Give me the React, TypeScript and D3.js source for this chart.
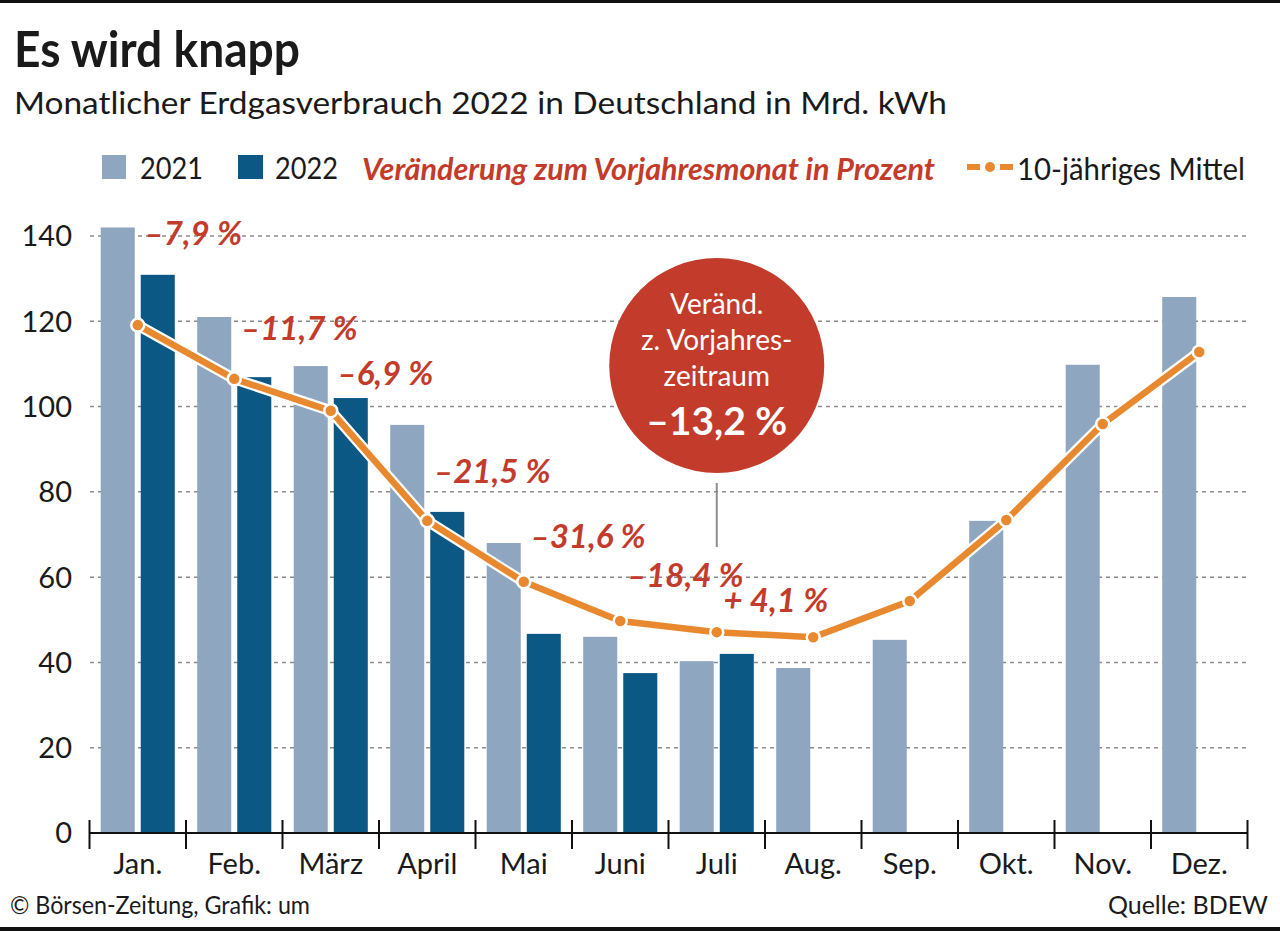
import React from "react";
import * as d3 from "d3";

const months = ["Jan.", "Feb.", "März", "April", "Mai", "Juni", "Juli", "Aug.", "Sep.", "Okt.", "Nov.", "Dez."];
const series = ["2021", "2022"];
const values2021 = [142, 121, 109.5, 95.7, 68, 46, 40.3, 38.7, 45.3, 73.2, 109.8, 125.7];
const values2022 = [130.9, 106.9, 102, 75.3, 46.7, 37.5, 42];
const mean10 = [119.1, 106.5, 99, 73.2, 58.9, 49.7, 47.1, 45.9, 54.4, 73.4, 95.9, 112.8];
const changeLabels = ["–7,9 %", "–11,7 %", "–6,9 %", "–21,5 %", "–31,6 %", "–18,4 %", "+ 4,1 %"];
const changeLabelLevels = [137.9, 115.6, 105.1, 82.1, 66.8, 57.7, 51.8];
const yTicks = [0, 20, 40, 60, 80, 100, 120, 140];
const bubbleLines = ["Veränd.", "z. Vorjahres-", "zeitraum"];
const bubbleValue = "–13,2 %";

const W = 1280;
const H = 931;
const FONT = "Lato, 'Open Sans', 'Noto Sans', sans-serif";
const C2021 = "#8fa6c1";
const C2022 = "#0b5884";
const RED = "#c23b2b";
const ORANGE = "#e8892f";

export default function App() {
  const x = d3.scaleBand<string>().domain(months).range([89.5, 1247.5]).paddingInner(0).paddingOuter(0);
  const xs = d3.scaleBand<string>().domain(series).range([0, x.bandwidth()]).paddingInner(0.15).paddingOuter(0.28);
  const y = d3.scaleLinear().domain([0, 140]).range([833, 236]);
  const cx = (m: string) => (x(m) as number) + x.bandwidth() / 2;

  const line = d3
    .line<number>()
    .x((_, i) => cx(months[i]))
    .y((d) => y(d));
  const linePath = line(mean10) || "";

  const boundaries = d3.range(months.length + 1).map((i) => 89.5 + i * x.bandwidth());
  const bubbleCx = cx("Juli");
  const bubbleCy = 365.5;
  const bubbleR = 107.5;

  return (
    <svg
      width={W}
      height={H}
      style={{ position: "absolute", left: 0, top: 0, background: "#fff" }}
      fontFamily={FONT}
    >
      <rect x={0} y={0} width={W} height={H} fill="#fff" />
      <rect x={0} y={0} width={W} height={3} fill="#111" />
      <rect x={0} y={927} width={W} height={4} fill="#111" />

      {/* Title */}
      <text x={14} y={67} fontSize={50} fontWeight={700} fill="#1a1a1a" textLength={286} lengthAdjust="spacingAndGlyphs">
        Es wird knapp
      </text>
      <text x={14} y={114} fontSize={30} fill="#1a1a1a" textLength={933} lengthAdjust="spacingAndGlyphs">
        Monatlicher Erdgasverbrauch 2022 in Deutschland in Mrd. kWh
      </text>

      {/* Legend */}
      <rect x={102} y={155} width={24} height={24} fill={C2021} />
      <text x={140} y={179} fontSize={31} fill="#1a1a1a" textLength={63} lengthAdjust="spacingAndGlyphs">2021</text>
      <rect x={238} y={155} width={25} height={24} fill={C2022} />
      <text x={275} y={179} fontSize={31} fill="#1a1a1a" textLength={63} lengthAdjust="spacingAndGlyphs">2022</text>
      <text x={362} y={180} fontSize={30} fontWeight={700} fontStyle="italic" fill={RED} textLength={573} lengthAdjust="spacingAndGlyphs">
        Veränderung zum Vorjahresmonat in Prozent
      </text>
      <line x1={967} x2={980} y1={167} y2={167} stroke={ORANGE} strokeWidth={6} />
      <line x1={1000} x2={1013} y1={167} y2={167} stroke={ORANGE} strokeWidth={6} />
      <circle cx={990} cy={167} r={5} fill={ORANGE} />
      <text x={1017} y={180} fontSize={31} fill="#1a1a1a" textLength={228} lengthAdjust="spacingAndGlyphs">
        10-jähriges Mittel
      </text>

      {/* Gridlines */}
      {yTicks.filter((t) => t > 0).map((t) => (
        <line key={t} x1={90} x2={1247} y1={y(t)} y2={y(t)} stroke="#8a8a8a" strokeWidth={1.5} strokeDasharray="4 4" />
      ))}

      {/* Y labels */}
      {yTicks.map((t) => (
        <text key={t} x={72} y={y(t)} dy="0.36em" textAnchor="end" fontSize={29} fill="#1a1a1a">
          {t}
        </text>
      ))}

      {/* Bars */}
      {values2021.map((v, i) => (
        <rect
          key={"a" + i}
          x={(x(months[i]) as number) + (xs("2021") as number)}
          y={y(v)}
          width={xs.bandwidth()}
          height={y(0) - y(v)}
          fill={C2021}
        />
      ))}
      {values2022.map((v, i) => (
        <rect
          key={"b" + i}
          x={(x(months[i]) as number) + (xs("2022") as number)}
          y={y(v)}
          width={xs.bandwidth()}
          height={y(0) - y(v)}
          fill={C2022}
        />
      ))}

      {/* Axis */}
      <line x1={89.5} x2={1247.5} y1={833} y2={833} stroke="#111" strokeWidth={2} />
      {boundaries.map((b, i) => (
        <line key={i} x1={b} x2={b} y1={820} y2={849} stroke="#111" strokeWidth={2} />
      ))}
      {months.map((m) => (
        <text key={m} x={cx(m)} y={874} textAnchor="middle" fontSize={29} fill="#1a1a1a">
          {m}
        </text>
      ))}

      {/* 10-year mean line */}
      <path d={linePath} fill="none" stroke="#fff" strokeWidth={11} strokeLinejoin="round" />
      <path d={linePath} fill="none" stroke={ORANGE} strokeWidth={6.5} strokeLinejoin="round" />
      {mean10.map((v, i) => (
        <circle key={i} cx={cx(months[i])} cy={y(v)} r={6.5} fill={ORANGE} stroke="#fff" strokeWidth={2.5} />
      ))}

      {/* Change labels */}
      {changeLabels.map((l, i) => (
        <text
          key={l}
          x={(x(months[i]) as number) + 55}
          y={y(changeLabelLevels[i])}
          fontSize={33}
          fontWeight={700}
          fontStyle="italic"
          fill={RED}
        >
          {l}
        </text>
      ))}

      {/* Bubble */}
      <line x1={bubbleCx} x2={bubbleCx} y1={483} y2={547} stroke="#8c8c8c" strokeWidth={2} />
      <circle cx={bubbleCx} cy={bubbleCy} r={bubbleR} fill={RED} />
      {bubbleLines.map((l, i) => (
        <text key={l} x={bubbleCx} y={314 + i * 36} textAnchor="middle" fontSize={28} fill="#fff">
          {l}
        </text>
      ))}
      <text x={bubbleCx} y={435} textAnchor="middle" fontSize={39} fontWeight={700} fill="#fff">
        {bubbleValue}
      </text>

      {/* Footer */}
      <text x={10} y={914} fontSize={25} fill="#1a1a1a" textLength={300} lengthAdjust="spacingAndGlyphs">
        © Börsen-Zeitung, Grafik: um
      </text>
      <text x={1268} y={914} textAnchor="end" fontSize={25} fill="#1a1a1a">
        Quelle: BDEW
      </text>
    </svg>
  );
}
